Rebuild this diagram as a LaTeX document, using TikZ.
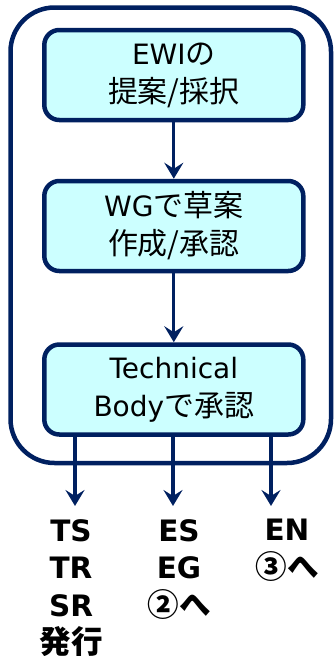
\documentclass[tikz,border=0pt]{standalone}
\usepackage{fontspec}
\setmainfont{DejaVu Sans}
\newfontfamily\cjk{Noto Sans CJK JP}[Scale=1.07]
\newcommand{\J}[1]{{\cjk #1}}
\usetikzlibrary{arrows.meta}
\definecolor{navy}{HTML}{002060}
\definecolor{boxfill}{HTML}{CCFFFF}
\tikzset{
  stepbox/.style={draw=navy, fill=boxfill, line width=4.5pt, rounded corners=15pt,
    minimum width=259pt, minimum height=90pt, inner sep=0pt, align=center,
    font=\fontsize{28}{38}\selectfont},
  flow/.style={draw=navy, line width=3.2pt, -{Stealth[length=16pt,width=19pt,inset=6pt]}},
  outlabel/.style={align=center, inner sep=0pt, anchor=north,
    font=\bfseries\fontsize{29.5}{37.5}\selectfont}
}
\begin{document}
\begin{tikzpicture}[x=1pt,y=-1pt]
\useasboundingbox (0,0) rectangle (334,656);
\draw[navy, line width=4.5pt, rounded corners=44pt] (10.5,7.5) rectangle (331,463);
\node[stepbox] (b1) at (173.8,75) {EWI\J{の}\\\J{提案/採択}};
\node[stepbox] (b2) at (173.8,226) {WG\J{で草案}\\\J{作成/承認}};
\node[stepbox] (b3) at (173.8,389.5) {Technical\\Body\J{で承認}};
\draw[flow] (b1) -- (b2);
\draw[flow] (b2) -- (b3);
\coordinate (e1) at (75,506);
\coordinate (e2) at (173,506);
\coordinate (e3) at (271,506);
\draw[flow] (b3.south -| e1) -- (e1);
\draw[flow] (b3.south -| e2) -- (e2);
\draw[flow] (b3.south -| e3) -- (e3);
\node[outlabel] (t1) at (71,519) {TS\\TR\\SR\\\J{発行}};
\node[outlabel] (t2) at (179,519) {ES\\EG\\\J{②へ}};
\node[outlabel] (t3) at (287,519) {EN\\\J{③へ}};
\end{tikzpicture}
\end{document}
